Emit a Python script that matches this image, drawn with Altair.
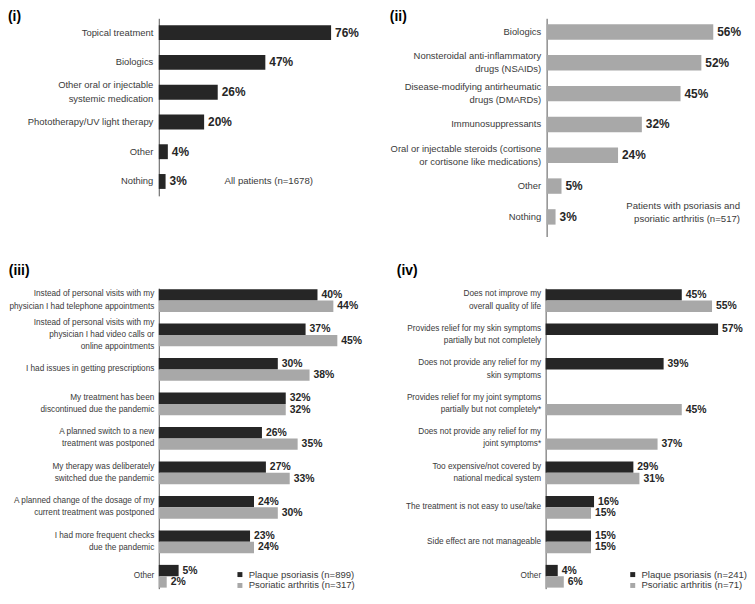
import altair as alt
import pandas as pd

FONT = "Liberation Sans, Arial, sans-serif"
DARK = "#262626"
LIGHT = "#a8a8a8"
LABEL_C = "#3a3a3a"

# ---------- data ----------
p1_cats = ["Topical treatment", "Biologics",
           "Other oral or injectable\nsystemic medication",
           "Phototherapy/UV light therapy", "Other", "Nothing"]
p1_vals = [76, 47, 26, 20, 4, 3]
p1_note = "All patients (n=1678)"

p2_cats = ["Biologics", "Nonsteroidal anti-inflammatory\ndrugs (NSAIDs)",
           "Disease-modifying antirheumatic\ndrugs (DMARDs)", "Immunosuppressants",
           "Oral or injectable steroids (cortisone \nor cortisone like medications)",
           "Other", "Nothing"]
p2_vals = [56, 52, 45, 32, 24, 5, 3]
p2_note = "Patients with psoriasis and\npsoriatic arthritis (n=517)"

p3_cats = ["Instead of personal visits with my\nphysician I had telephone appointments",
           "Instead of personal visits with my\nphysician I had video calls or\nonline appointments",
           "I had issues in getting prescriptions",
           "My treatment has been\ndiscontinued due the pandemic",
           "A planned switch to a new\ntreatment was postponed",
           "My therapy was deliberately\nswitched due the pandemic",
           "A planned change of the dosage of my\ncurrent treatment was postponed",
           "I had more frequent checks\ndue the pandemic",
           "Other"]
p3_plaque = [40, 37, 30, 32, 26, 27, 24, 23, 5]
p3_psa = [44, 45, 38, 32, 35, 33, 30, 24, 2]
p3_series = ["Plaque psoriasis (n=899)", "Psoriatic arthritis (n=317)"]

p4_cats = ["Does not improve my\noverall quality of life",
           "Provides relief for my skin symptoms\npartially but not completely",
           "Does not provide any relief for my\nskin symptoms",
           "Provides relief for my joint symptoms\npartially but not completely*",
           "Does not provide any relief for my\njoint symptoms*",
           "Too expensive/not covered by\nnational medical system",
           "The treatment is not easy to use/take",
           "Side effect are not manageable",
           "Other"]
p4_plaque = [45, 57, 39, None, None, 29, 16, 15, 4]
p4_psa = [55, None, None, 45, 37, 31, 15, 15, 6]
p4_series = ["Plaque psoriasis (n=241)", "Psoriatic arthritis (n=71)"]

SER_KEYS = ["a", "b"]


def y_axis(E, size, lh, pad):
    nlines = "length(split(datum.value, '\\n'))"
    return alt.Axis(title=None, ticks=False, labelPadding=pad, labelFontSize=size,
                    labelLineHeight=lh, labelExpr="split(datum.label, '\\n')",
                    labelOffset={"condition": [
                        {"test": nlines + " == 3", "value": -lh},
                        {"test": nlines + " == 2", "value": -lh / 2}], "value": 0},
                    minExtent=E, maxExtent=E, domainColor="#555555", labelColor=LABEL_C,
                    labelFont=FONT, labelLimit=300, grid=False)


def single_panel(cats, vals, color, W, H, xmax, pi, po, palign, E, lsize, lh, vsize, title,
                 toff, note, note_cat, note_x, note_align, note_dy):
    df = pd.DataFrame({"cat": cats, "val": vals, "lbl": [f"{v}%" for v in vals]})
    x = alt.X("val:Q", scale=alt.Scale(domain=[0, xmax], nice=False, zero=True), axis=None)
    y = alt.Y("cat:N", sort=cats,
              scale=alt.Scale(paddingInner=pi, paddingOuter=po, align=palign),
              axis=y_axis(E, lsize, lh, 6))
    base = alt.Chart(df)
    bars = base.mark_bar(color=color).encode(x=x, y=y)
    txt = base.mark_text(align="left", baseline="middle", dx=4, font=FONT, fontWeight="bold",
                         fontSize=vsize, color=DARK).encode(
        x=x, y=alt.Y("cat:N", sort=cats), text="lbl:N")
    ndf = pd.DataFrame({"cat": [note_cat], "val": [note_x], "t": [note]})
    nt = alt.Chart(ndf).mark_text(align=note_align, baseline="middle", font=FONT, fontSize=9.7,
                                  color=LABEL_C, lineBreak="\n", lineHeight=13, dy=note_dy).encode(
        x=alt.X("val:Q"), y=alt.Y("cat:N", sort=cats), text="t:N")
    return alt.layer(bars, txt, nt).properties(
        width=W, height=H,
        title=alt.TitleParams(text=title, anchor="start", frame="bounds", offset=toff,
                              fontSize=14, font=FONT, fontWeight="bold", color="black"))


def double_panel(cats, s1, s2, series, W, H, xmax, E, title, toff, legx, legy):
    rows = []
    for c, a, b in zip(cats, s1, s2):
        if a is not None:
            rows.append({"cat": c, "val": a, "key": "a", "ser": series[0], "lbl": f"{a}%"})
        if b is not None:
            rows.append({"cat": c, "val": b, "key": "b", "ser": series[1], "lbl": f"{b}%"})
    df = pd.DataFrame(rows)
    x = alt.X("val:Q", scale=alt.Scale(domain=[0, xmax], nice=False, zero=True), axis=None)
    y = alt.Y("cat:N", sort=cats, scale=alt.Scale(paddingInner=0.34, paddingOuter=0.03),
              axis=y_axis(E, 8.3, 12.3, 5))
    yo = alt.YOffset("key:N", sort=SER_KEYS, scale=alt.Scale(paddingInner=0, paddingOuter=0))
    base = alt.Chart(df)
    bars = base.mark_bar().encode(
        x=x, y=y, yOffset=yo,
        color=alt.Color("ser:N", sort=series,
                        scale=alt.Scale(domain=series, range=[DARK, LIGHT]),
                        legend=alt.Legend(title=None, orient="none", legendX=legx, legendY=legy,
                                          symbolType="square", symbolSize=25, labelFontSize=9.6,
                                          labelFont=FONT, labelColor=LABEL_C, padding=0,
                                          rowPadding=0, labelOffset=4, symbolStrokeWidth=0)))
    txt = base.mark_text(align="left", baseline="middle", dx=4, font=FONT, fontWeight="bold",
                         fontSize=10.5, color=DARK).encode(
        x=x, y=alt.Y("cat:N", sort=cats), yOffset=yo, text="lbl:N")
    return alt.layer(bars, txt).properties(
        width=W, height=H,
        title=alt.TitleParams(text=title, anchor="start", frame="bounds", offset=toff,
                              fontSize=14, font=FONT, fontWeight="bold", color="black"))


p1 = single_panel(p1_cats, p1_vals, DARK, 232, 179, 101.5, 0.5, 0.233, 0.5, 152, 9.5, 14, 12,
                  "(i)", -6, p1_note, "Nothing", 29, "left", 0)
p2 = single_panel(p2_cats, p2_vals, LIGHT, 197, 220, 65.67, 0.5, 0.2896, 0.333, 158, 9.5, 13.3,
                  12, "(ii)", -6, p2_note, "Nothing", 65, "right", -11)
p3 = double_panel(p3_cats, p3_plaque, p3_psa, p3_series, 240, 303, 60, 150, "(iii)", 10, 77, 284)
p4 = double_panel(p4_cats, p4_plaque, p4_psa, p4_series, 199, 303, 65.25, 150, "(iv)", 10, 83, 284)

row1 = alt.hconcat(p1, p2, spacing=0)
row2 = alt.hconcat(p3, p4, spacing=0).resolve_scale(color="independent")
chart = alt.vconcat(row1, row2, spacing=28).resolve_scale(color="independent").properties(
    padding=0
).configure_view(stroke=None)

chart.save("out.html", embed_options={"renderer": "svg", "actions": False})
